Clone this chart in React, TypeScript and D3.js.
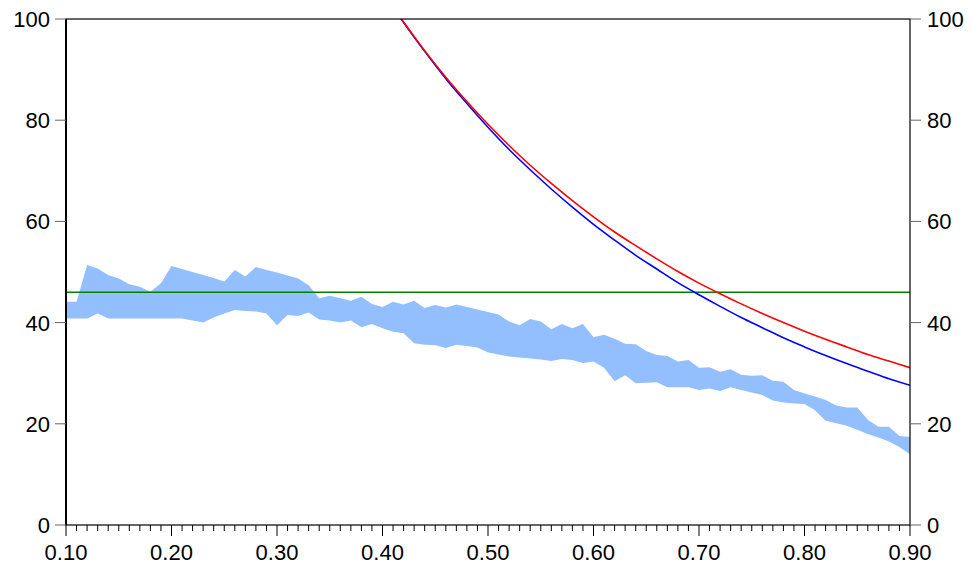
import * as d3 from "d3";
import { useEffect, useRef } from "react";

// band: x from 0.10 to 0.90 by 0.01
const bandX = d3.range(81).map((i) => +(0.1 + i * 0.01).toFixed(2));
const bandUpper = [
  44.1, 44.1, 51.4, 50.7, 49.4, 48.7, 47.6, 47.1, 46.1, 47.8,
  51.2, 50.6, 50.0, 49.4, 48.8, 48.1, 50.4, 49.1, 51.0, 50.4,
  49.9, 49.3, 48.7, 47.4, 44.8, 45.3, 44.8, 44.3, 45.1, 43.7,
  43.1, 44.1, 43.6, 44.3, 42.9, 43.5, 43.0, 43.6, 43.1, 42.6,
  42.1, 41.6, 40.2, 39.5, 40.7, 40.2, 38.7, 39.7, 38.9, 39.7,
  37.1, 37.6, 36.8, 35.8, 35.7, 34.4, 33.6, 33.4, 32.3, 32.6,
  31.1, 31.2, 30.3, 30.8, 29.7, 29.5, 29.6, 28.5, 28.3, 26.7,
  26.0, 25.4, 24.7, 23.6, 23.2, 23.2, 20.8, 19.4, 19.4, 17.6,
  17.4,
];
const bandLower = [
  40.8, 40.8, 40.8, 41.8, 40.8, 40.8, 40.8, 40.8, 40.8, 40.8,
  40.8, 40.8, 40.4, 40.0, 41.0, 41.8, 42.5, 42.3, 42.2, 41.8,
  39.5, 41.5, 41.3, 42.0, 40.6, 40.4, 40.0, 40.4, 39.1, 39.7,
  38.9, 38.2, 37.9, 35.9, 35.6, 35.5, 35.0, 35.6, 35.4, 35.1,
  34.1, 33.7, 33.3, 33.1, 32.9, 32.7, 32.4, 32.8, 32.6, 32.0,
  32.3, 31.1, 28.4, 29.6, 28.0, 28.1, 28.2, 27.2, 27.2, 27.2,
  26.7, 27.0, 26.5, 27.2, 26.7, 26.2, 25.7, 24.6, 24.2, 24.0,
  23.9, 22.7, 20.6, 20.1, 19.6, 18.8, 18.0, 17.3, 16.5, 15.4,
  14.0,
];

// curves: x from 0.41 to 0.90
const curveX = [
  0.41, 0.42, 0.44, 0.46, 0.48, 0.5, 0.52, 0.54, 0.56, 0.58, 0.6, 0.62, 0.64,
  0.66, 0.68, 0.7, 0.72, 0.74, 0.76, 0.78, 0.8, 0.82, 0.84, 0.86, 0.88, 0.9,
];
const blueValues = [
  102.3, 99.3, 93.6, 88.2, 83.3, 78.6, 74.2, 70.2, 66.4, 62.8, 59.4, 56.3, 53.3,
  50.6, 47.9, 45.5, 43.2, 41.0, 39.0, 37.0, 35.2, 33.5, 31.9, 30.4, 28.9, 27.6,
];
const redValues = [
  102.4, 99.4, 93.75, 88.5, 83.7, 79.2, 75.0, 71.1, 67.5, 64.1, 60.9, 57.9, 55.2,
  52.6, 50.1, 47.8, 45.7, 43.7, 41.8, 40.0, 38.3, 36.7, 35.2, 33.7, 32.4, 31.1,
];
const greenLevel = 46.0;

const yTicks = [0, 20, 40, 60, 80, 100];
const xMajorTicks = [0.1, 0.2, 0.3, 0.4, 0.5, 0.6, 0.7, 0.8, 0.9];

const W = 972;
const H = 572;
const left = 66;
const right = 910;
const top = 19;
const bottom = 525;
const font = "Arial, 'Liberation Sans', sans-serif";
const fontSize = 22;

export default function App() {
  const svgRef = useRef<SVGSVGElement>(null);

  useEffect(() => {
    const svg = d3.select(svgRef.current);
    svg.selectAll("*").remove();

    const x = d3.scaleLinear().domain([0.1, 0.9]).range([left, right]);
    const y = d3.scaleLinear().domain([0, 100]).range([bottom, top]);

    svg
      .append("defs")
      .append("clipPath")
      .attr("id", "plot")
      .append("rect")
      .attr("x", left)
      .attr("y", top)
      .attr("width", right - left)
      .attr("height", bottom - top);

    const g = svg.append("g").attr("clip-path", "url(#plot)");

    const band = d3
      .area<number>()
      .x((d) => x(d))
      .y0((d, i) => y(bandLower[i]))
      .y1((d, i) => y(bandUpper[i]));
    g.append("path")
      .attr("d", band(bandX))
      .attr("fill", "#94bfff");

    g.append("line")
      .attr("x1", left)
      .attr("x2", right)
      .attr("y1", y(greenLevel))
      .attr("y2", y(greenLevel))
      .attr("stroke", "#008000")
      .attr("stroke-width", 1.6);

    const curve = (vals: number[]) =>
      d3
        .line<number>()
        .x((d) => x(d))
        .y((d, i) => y(vals[i]))
        .curve(d3.curveMonotoneX)(curveX);

    g.append("path")
      .attr("d", curve(blueValues))
      .attr("fill", "none")
      .attr("stroke", "#0000ff")
      .attr("stroke-width", 1.6);
    g.append("path")
      .attr("d", curve(redValues))
      .attr("fill", "none")
      .attr("stroke", "#ff0000")
      .attr("stroke-width", 1.6);

    // frame
    svg
      .append("rect")
      .attr("x", left)
      .attr("y", top)
      .attr("width", right - left)
      .attr("height", bottom - top)
      .attr("fill", "none")
      .attr("stroke", "#000")
      .attr("stroke-width", 1.2);
    svg
      .append("line")
      .attr("x1", left)
      .attr("x2", left)
      .attr("y1", top)
      .attr("y2", bottom)
      .attr("stroke", "#000")
      .attr("stroke-width", 2);

    // y ticks, both sides
    const yAxis = svg.append("g");
    yTicks.forEach((t) => {
      yAxis
        .append("line")
        .attr("x1", left - 11)
        .attr("x2", left)
        .attr("y1", y(t))
        .attr("y2", y(t))
        .attr("stroke", "#666")
        .attr("stroke-width", 1);
      yAxis
        .append("line")
        .attr("x1", right)
        .attr("x2", right + 11)
        .attr("y1", y(t))
        .attr("y2", y(t))
        .attr("stroke", "#666")
        .attr("stroke-width", 1);
      yAxis
        .append("text")
        .attr("x", left - 16)
        .attr("y", y(t))
        .attr("dy", "0.36em")
        .attr("text-anchor", "end")
        .text(t);
      yAxis
        .append("text")
        .attr("x", right + 17)
        .attr("y", y(t))
        .attr("dy", "0.36em")
        .attr("text-anchor", "start")
        .text(t);
    });

    // x ticks
    const xAxis = svg.append("g");
    d3.range(81).forEach((i) => {
      const v = 0.1 + i * 0.01;
      const major = i % 10 === 0;
      xAxis
        .append("line")
        .attr("x1", x(v))
        .attr("x2", x(v))
        .attr("y1", bottom)
        .attr("y2", bottom + (major ? 11 : 6))
        .attr("stroke", "#000")
        .attr("stroke-width", 1);
    });
    xMajorTicks.forEach((t) => {
      xAxis
        .append("text")
        .attr("x", x(t))
        .attr("y", 560)
        .attr("text-anchor", "middle")
        .text(d3.format(".2f")(t));
    });

    svg
      .selectAll("text")
      .attr("font-family", font)
      .attr("font-size", fontSize)
      .attr("fill", "#000");
  }, []);

  return (
    <svg
      ref={svgRef}
      width={W}
      height={H}
      style={{ position: "absolute", left: 0, top: 0, background: "#fff" }}
    />
  );
}
